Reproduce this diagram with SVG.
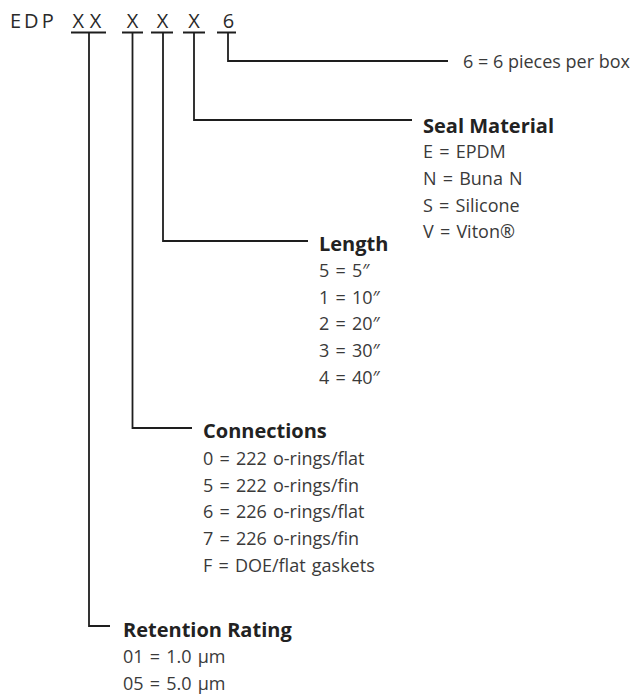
<svg xmlns="http://www.w3.org/2000/svg" width="637" height="696" viewBox="0 0 637 696">
  <style>
    .code { font-family: "Open Sans", "Liberation Sans", sans-serif; font-size: 20px; fill: #2a2a2a; }
    .hd { font-family: "Open Sans", "Liberation Sans", sans-serif; font-size: 20px; font-weight: bold; fill: #222; }
    .it { font-family: "Open Sans", "Liberation Sans", sans-serif; font-size: 18px; fill: #3a3a3a; }
    .wide { word-spacing: 1.5px; }
    .ln { fill: none; stroke: #1e1e1e; stroke-width: 1.8; }
  </style>
  <rect width="637" height="696" fill="#fff"/>

  <g id="code">
    <text class="code" x="10" y="27.5" letter-spacing="3">EDP</text>
    <text class="code" x="78.3" y="27.5" text-anchor="middle">X</text>
    <text class="code" x="95.5" y="27.5" text-anchor="middle">X</text>
    <text class="code" x="132.5" y="27.5" text-anchor="middle">X</text>
    <text class="code" x="162.5" y="27.5" text-anchor="middle">X</text>
    <text class="code" x="194" y="27.5" text-anchor="middle">X</text>
    <text class="code" x="228.5" y="27.5" text-anchor="middle">6</text>
  </g>

  <g id="connectors">
    <path class="ln" d="M71 32.5H106 M122 32.5H143 M151 32.5H173 M183 32.5H205 M217 32.5H236"/>
    <path class="ln" d="M228 32.5V61H448"/>
    <path class="ln" d="M194 32.5V120H412"/>
    <path class="ln" d="M163 32.5V241H308"/>
    <path class="ln" d="M132.5 32.5V428H192"/>
    <path class="ln" d="M89 32.5V626H110"/>
  </g>

  <g id="box-qty">
    <text class="it" x="463" y="68">6 = 6 pieces per box</text>
  </g>

  <g id="seal-material">
    <text class="hd" x="423" y="132.5">Seal Material</text>
    <text class="it wide" x="423" y="158">E = EPDM</text>
    <text class="it wide" x="423" y="185">N = Buna N</text>
    <text class="it wide" x="423" y="211.5">S = Silicone</text>
    <text class="it wide" x="423" y="237.5">V = Viton®</text>
  </g>

  <g id="length">
    <text class="hd" x="319" y="250.5">Length</text>
    <text class="it wide" x="319" y="277">5 = 5″</text>
    <text class="it wide" x="319" y="303.5">1 = 10″</text>
    <text class="it wide" x="319" y="330">2 = 20″</text>
    <text class="it wide" x="319" y="357">3 = 30″</text>
    <text class="it wide" x="319" y="383.5">4 = 40″</text>
  </g>

  <g id="connections">
    <text class="hd" x="203" y="438">Connections</text>
    <text class="it wide" x="203" y="465">0 = 222 o-rings/flat</text>
    <text class="it wide" x="203" y="491.5">5 = 222 o-rings/fin</text>
    <text class="it wide" x="203" y="518">6 = 226 o-rings/flat</text>
    <text class="it wide" x="203" y="545">7 = 226 o-rings/fin</text>
    <text class="it wide" x="203" y="571.5">F = DOE/flat gaskets</text>
  </g>

  <g id="retention-rating">
    <text class="hd" x="123" y="637">Retention Rating</text>
    <text class="it wide" x="123" y="663">01 = 1.0 µm</text>
    <text class="it wide" x="123" y="690">05 = 5.0 µm</text>
  </g>
</svg>
